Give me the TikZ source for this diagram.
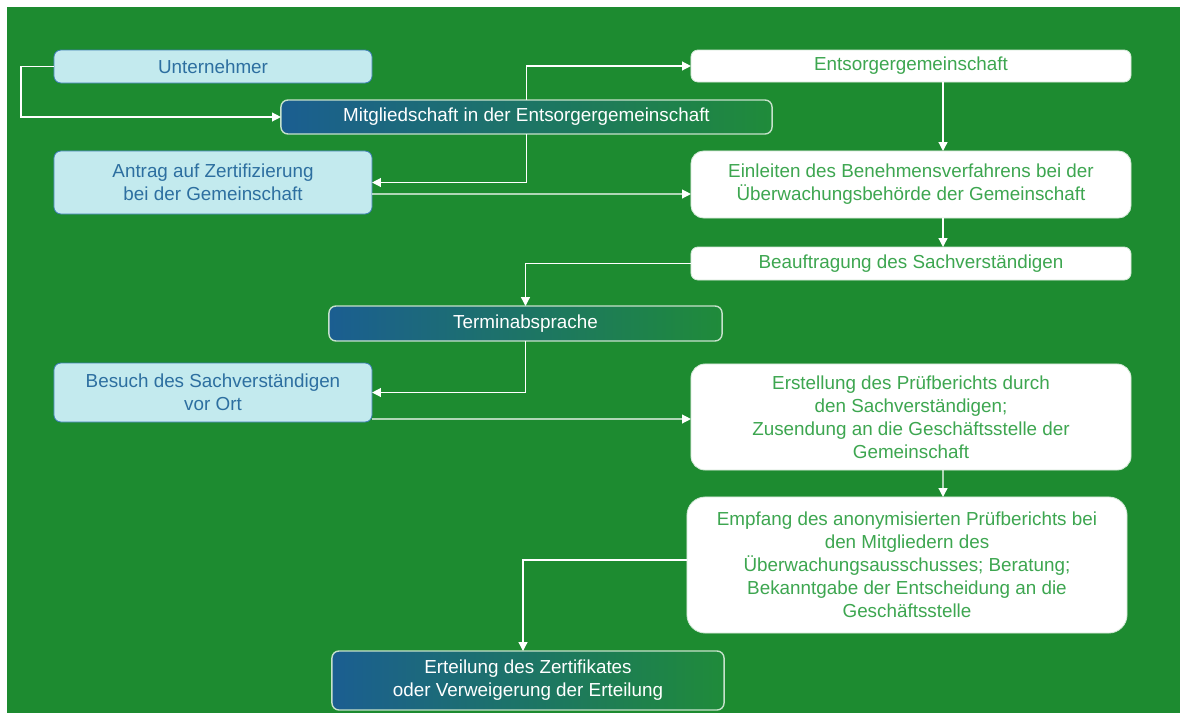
\documentclass[tikz,border=0pt]{standalone}
\usepackage{fontspec}
\setmainfont{Liberation Sans}
\usepackage{xcolor}
\usetikzlibrary{arrows.meta,positioning}

\definecolor{bggreen}{HTML}{1D8B30}
\definecolor{paleblue}{HTML}{C3EAEE}
\definecolor{edgeblue}{HTML}{3F7FB5}
\definecolor{inkblue}{HTML}{2D6FA0}
\definecolor{inkgreen}{HTML}{3DA650}
\definecolor{gradblue}{HTML}{1B5E91}
\definecolor{gradgreen}{HTML}{1F8B3A}

\begin{document}
\begin{tikzpicture}[
    x=0.025cm, y=-0.025cm,
    base/.style={rectangle, rounded corners=5pt, inner sep=0pt, outer sep=0pt,
                 align=center, font=\fontsize{13.4}{16.4}\selectfont},
    party/.style={base, draw=edgeblue, line width=0.6pt, fill=paleblue, text=inkblue},
    office/.style={base, draw=white!80!bggreen, line width=0.6pt, fill=white, text=inkgreen},
    stage/.style={base, draw=white!75!bggreen, line width=1pt,
                  left color=gradblue, right color=gradgreen, text=white},
    arr/.style={-{Triangle[length=0.22cm, width=0.22cm]}, draw=white, line width=0.9pt},
]
% Background
\useasboundingbox (0,0) rectangle (1180,713);
\fill[bggreen] (7,7) rectangle (1180,713);

% Left column: applicant
\node[party, minimum width=7.95cm, minimum height=0.825cm] (unter) at (213,66.5) {Unternehmer};
\node[party, minimum width=7.95cm, minimum height=1.575cm] (antrag) at (213,182.5)
    {Antrag auf Zertifizierung\\bei der Gemeinschaft};
\node[party, minimum width=7.95cm, minimum height=1.475cm] (besuch) at (213,392.5)
    {Besuch des Sachverständigen\\vor Ort};

% Center column: milestones
\node[stage, minimum width=12.275cm, minimum height=0.85cm] (mitglied) at (526.5,117)
    {Mitgliedschaft in der Entsorgergemeinschaft};
\node[stage, minimum width=9.825cm, minimum height=0.875cm] (termin) at (525.5,323.5)
    {Terminabsprache};
\node[stage, minimum width=9.8cm, minimum height=1.475cm] (erteilung) at (528,680.5)
    {Erteilung des Zertifikates\\oder Verweigerung der Erteilung};

% Right column: community
\node[office, minimum width=11cm, minimum height=0.8cm] (entsorger) at (911,66)
    {Entsorgergemeinschaft};
\node[office, rounded corners=9pt, minimum width=11cm, minimum height=1.675cm] (einleiten) at (911,184.5)
    {Einleiten des Benehmensverfahrens bei der\\Überwachungsbehörde der Gemeinschaft};
\node[office, minimum width=11cm, minimum height=0.825cm] (beauftr) at (911,263.5)
    {Beauftragung des Sachverständigen};
\node[office, rounded corners=10pt, minimum width=11cm, minimum height=2.65cm] (erstellung) at (911,417)
    {Erstellung des Prüfberichts durch\\den Sachverständigen;\\Zusendung an die Geschäftsstelle der\\Gemeinschaft};
\node[office, rounded corners=13pt, minimum width=11cm, minimum height=3.4cm] (empfang) at (907,565)
    {Empfang des anonymisierten Prüfberichts bei\\den Mitgliedern des\\Überwachungsausschusses; Beratung;\\Bekanntgabe der Entscheidung an die\\Geschäftsstelle};

% Arrows: application
\draw[arr] (unter.west) -- ++(-33,0) |- (mitglied.west);
\draw[arr] (mitglied.north) |- (entsorger.west);
\draw[arr] (mitglied.south) |- (antrag.east);
\draw[arr] ([yshift=-0.2875cm]antrag.east) -- ([yshift=-0.2375cm]einleiten.west);

% Arrows: right column
\draw[arr] ([xshift=0.8cm]entsorger.south) -- ([xshift=0.8cm]einleiten.north);
\draw[arr] ([xshift=0.8cm]einleiten.south) -- ([xshift=0.8cm]beauftr.north);
\draw[arr] ([xshift=0.8cm]erstellung.south) -- ([xshift=0.9cm]empfang.north);

% Arrows: inspection and decision
\draw[arr] (beauftr.west) -| (termin.north);
\draw[arr] (termin.south) |- (besuch.east);
\draw[arr] ([yshift=-0.6625cm]besuch.east) -- ([yshift=-0.05cm]erstellung.west);
\draw[arr] ([yshift=0.125cm]empfang.west) -| ([xshift=-0.125cm]erteilung.north);

\end{tikzpicture}
\end{document}
